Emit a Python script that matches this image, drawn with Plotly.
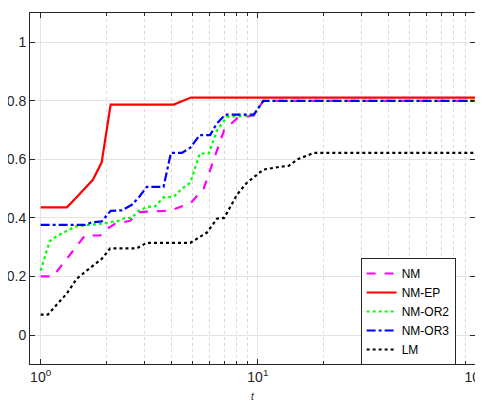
import plotly.graph_objects as go

# data
nm_t = [1.0, 1.14, 1.6, 1.88, 2.0, 2.2, 2.58, 2.87, 3.96, 4.89, 5.63, 6.27, 7.0, 8.03, 9.57, 10.6, 100]
nm_y = [0.20, 0.20, 0.34, 0.34, 0.36, 0.38, 0.39, 0.42, 0.425, 0.45, 0.50, 0.60, 0.70, 0.74, 0.75, 0.80, 0.80]

ep_t = [1.0, 1.32, 1.46, 1.6, 1.74, 1.91, 2.1, 4.1, 4.92, 100]
ep_y = [0.436, 0.436, 0.47, 0.50, 0.53, 0.59, 0.787, 0.787, 0.811, 0.811]

or2_t = [1.0, 1.1, 1.2, 1.32, 1.44, 1.6, 1.91, 2.1, 2.28, 2.45, 2.63, 2.83, 3.08, 3.37, 3.68, 4.1, 4.47, 4.89, 5.4, 5.94, 6.5, 7.2, 9.57, 10.6, 100]
or2_y = [0.22, 0.32, 0.34, 0.355, 0.37, 0.375, 0.38, 0.386, 0.39, 0.40, 0.40, 0.425, 0.437, 0.44, 0.47, 0.472, 0.50, 0.52, 0.62, 0.62, 0.70, 0.745, 0.75, 0.80, 0.80]

or3_t = [1.0, 1.6, 1.72, 1.91, 2.1, 2.37, 2.63, 2.83, 3.08, 3.68, 3.98, 4.47, 4.89, 5.4, 6.03, 6.44, 7.08, 9.57, 10.6, 100]
or3_y = [0.376, 0.376, 0.385, 0.388, 0.424, 0.426, 0.445, 0.47, 0.506, 0.506, 0.622, 0.622, 0.64, 0.683, 0.683, 0.72, 0.753, 0.753, 0.80, 0.80]

lm_t = [1.0, 1.08, 1.32, 1.47, 1.63, 1.91, 2.09, 2.77, 3.08, 4.89, 5.83, 6.5, 7.0, 8.03, 8.9, 9.93, 10.6, 12.7, 13.9, 15.2, 18.1, 100]
lm_y = [0.07, 0.07, 0.142, 0.193, 0.22, 0.26, 0.296, 0.296, 0.315, 0.315, 0.35, 0.398, 0.40, 0.48, 0.52, 0.55, 0.565, 0.575, 0.578, 0.60, 0.622, 0.622]

series = [
    ("NM", nm_t, nm_y, "#ff00ff", "dash"),
    ("NM-EP", ep_t, ep_y, "#ff0000", "solid"),
    ("NM-OR2", or2_t, or2_y, "#00ff00", "dot"),
    ("NM-OR3", or3_t, or3_y, "#0000ff", "dashdot"),
    ("LM", lm_t, lm_y, "#000000", "dot"),
]

x_tickvals = [1, 10, 100]
x_ticktext = ["10<sup>0</sup>", "10<sup>1</sup>", "10<sup>2</sup>"]
x_minor = [2, 3, 4, 5, 6, 7, 8, 9, 20, 30, 40, 50, 60, 70, 80, 90]
y_tickvals = [0, 0.2, 0.4, 0.6, 0.8, 1]
y_ticktext = ["0", "0.2", "0.4", "0.6", "0.8", "1"]

fig = go.Figure()
for name, t, y, c, d in series:
    fig.add_trace(go.Scatter(x=t, y=y, mode="lines", name=name,
                             line=dict(color=c, dash=d, width=2.2)))

# page body adds an 8px offset; figure is sized to compensate
fig.update_layout(
    width=475, height=394,
    margin=dict(l=22, r=8, t=5, b=38, autoexpand=False),
    paper_bgcolor="white", plot_bgcolor="white",
    font=dict(family="Liberation Sans, Arial, sans-serif", size=14, color="#262626"),
    showlegend=True,
    legend=dict(x=0.743, y=0.302, xanchor="left", yanchor="top",
                bgcolor="white", bordercolor="#262626", borderwidth=1,
                font=dict(size=12, color="#000000"), tracegroupgap=0,
                itemwidth=30),
)
fig.update_xaxes(
    type="log", range=[-0.049, 2.0], automargin=False,
    tickvals=x_tickvals, ticktext=x_ticktext, ticklabeloverflow="allow",
    showgrid=True, gridcolor="#e3e3e3", gridwidth=1,
    showline=True, linecolor="#262626", linewidth=1, mirror="allticks",
    ticks="inside", ticklen=5, tickcolor="#262626",
    minor=dict(tickvals=x_minor, ticks="inside", ticklen=3, tickcolor="#262626",
               showgrid=True, gridcolor="#d8d8d8", griddash="dot", gridwidth=1),
    title=dict(text="<i>t</i>", font=dict(size=10), standoff=9),
    zeroline=False,
)
fig.update_yaxes(
    range=[-0.099, 1.1], automargin=False, ticklabeloverflow="allow",
    tickvals=y_tickvals, ticktext=y_ticktext,
    showgrid=True, gridcolor="#e3e3e3", gridwidth=1,
    showline=True, linecolor="#262626", linewidth=1, mirror="allticks",
    ticks="inside", ticklen=5, tickcolor="#262626",
    zeroline=False,
)
fig.write_html("out.html")
